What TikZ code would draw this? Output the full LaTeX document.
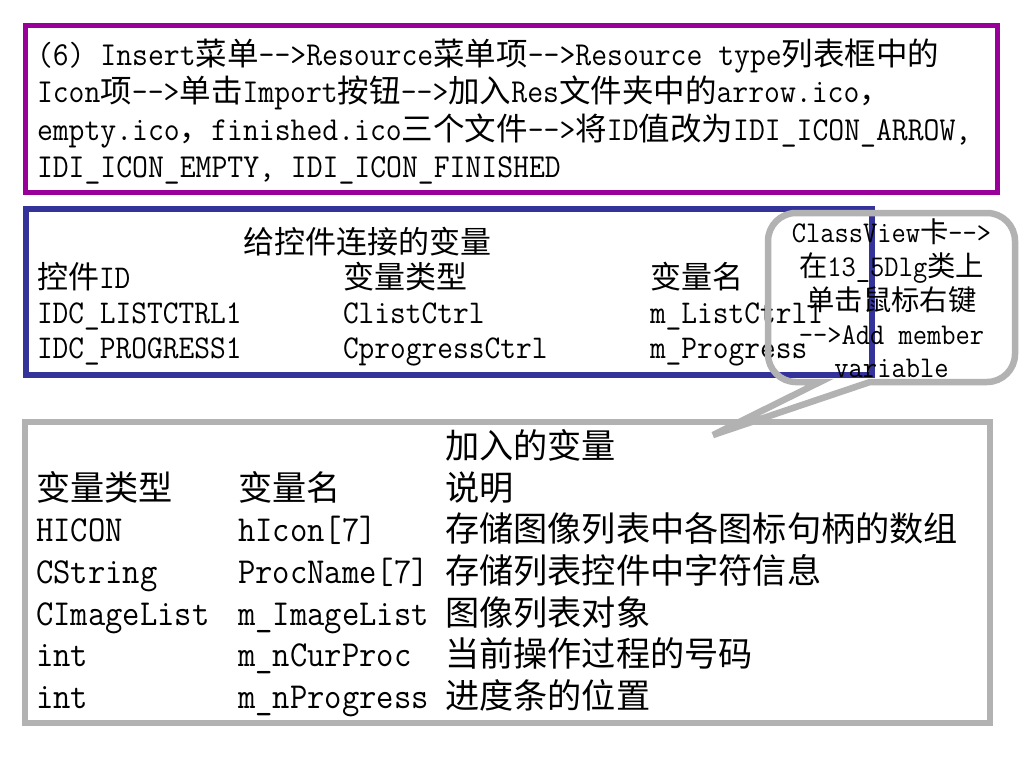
\documentclass[tikz,border=0pt]{standalone}
\usepackage{fontspec}
\newfontfamily\latf[FakeStretch=0.92,Ligatures=TeXOff]{Latin Modern Mono}
\newfontfamily\cjkf{Noto Sans CJK SC}
\definecolor{boxpurple}{HTML}{990099}
\definecolor{boxblue}{HTML}{333399}
\definecolor{boxgray}{HTML}{B2B2B2}
\def\cjksz{31.5}
\newcommand\zh[1]{{\cjkf\fontsize{\cjksz}{\cjksz}\selectfont #1}}
\newcommand\pfont{\def\cjksz{31.5}\latf\fontsize{33.5}{37.5}\selectfont}
\newcommand\bfont{\def\cjksz{31}\latf\fontsize{33.2}{35}\selectfont}
\newcommand\cfont{\def\cjksz{28.3}\latf\fontsize{30.1}{34}\selectfont}
\newcommand\gfont{\def\cjksz{34.2}\latf\fontsize{36.6}{41.6}\selectfont}
\tikzset{
  txt/.style={inner sep=0pt, outer sep=0pt, anchor=base west},
  ctxt/.style={inner sep=0pt, outer sep=0pt, anchor=base},
  pbox/.style={draw=boxpurple, line width=5.5pt},
  bbox/.style={draw=boxblue, line width=6pt},
  gbox/.style={draw=boxgray, line width=6pt},
  callout/.style={draw=boxgray, line width=6.5pt},
}
\begin{document}
\begin{tikzpicture}[x=1pt,y=-1pt]
\useasboundingbox[fill=white] (0,0) rectangle (1024,768);

% purple box
\draw[pbox] (25.5,25.5) rectangle (997.5,192.5);
\begin{scope}[every node/.style={txt,font=\pfont}]
\node (p1) at (37,65) {(6) Insert\zh{菜单}-->Resource\zh{菜单项}-->Resource type\zh{列表框中的}};
\node (p2) at (37,102.7) {Icon\zh{项}-->\zh{单击}Import\zh{按钮}-->\zh{加入}Res\zh{文件夹中的}arrow.ico\zh{，}};
\node (p3) at (37,140.2) {empty.ico\zh{，}finished.ico\zh{三个文件}-->\zh{将}ID\zh{值改为}IDI\_ICON\_ARROW,};
\node (p4) at (37,177.7) {IDI\_ICON\_EMPTY, IDI\_ICON\_FINISHED};
\end{scope}

% blue box
\draw[bbox] (25.5,208.5) rectangle (871.5,375);
\node[ctxt,font=\bfont] (bt) at (367.5,253) {\zh{给控件连接的变量}};
\begin{scope}[every node/.style={txt,font=\bfont}]
\node (bh1) at (37,288) {\zh{控件}ID};
\node (bh2) at (343,288) {\zh{变量类型}};
\node (bh3) at (650,288) {\zh{变量名}};
\node (b11) at (37,323) {IDC\_LISTCTRL1};
\node (b12) at (343,323) {ClistCtrl};
\node (b13) at (650,323) {m\_ListCtrl1};
\node (b21) at (37,358) {IDC\_PROGRESS1};
\node (b22) at (343,358) {CprogressCtrl};
\node (b23) at (650,358) {m\_Progress};
\end{scope}

% callout
\draw[callout] (713,435) -- (820,382) -- (795,382) [rounded corners=28pt] -- (768,382) -- (768,213) -- (1015,213) -- (1015,382) -- (900,382) [sharp corners] -- (870,382) -- cycle;
\begin{scope}[every node/.style={ctxt,font=\cfont}]
\node (c1) at (891.5,242) {ClassView\zh{卡}-->};
\node (c2) at (891.5,276) {\zh{在}13\_5Dlg\zh{类上}};
\node (c3) at (891.5,310.5) {\zh{单击鼠标右键}};
\node (c4) at (891.5,344) {-->Add member};
\node (c5) at (891.5,377) {variable};
\end{scope}

% gray box
\draw[gbox] (24.5,421.5) rectangle (990,723);
\begin{scope}[every node/.style={txt,font=\gfont}]
\node (gt) at (445,458.7) {\zh{加入的变量}};
\node (gh1) at (36,500.3) {\zh{变量类型}};
\node (gh2) at (238,500.3) {\zh{变量名}};
\node (gh3) at (445,500.3) {\zh{说明}};
\node (g11) at (36,541.9) {HICON};
\node (g12) at (238,541.9) {hIcon[7]};
\node (g13) at (445,541.9) {\zh{存储图像列表中各图标句柄的数组}};
\node (g21) at (36,583.5) {CString};
\node (g22) at (238,583.5) {ProcName[7]};
\node (g23) at (445,583.5) {\zh{存储列表控件中字符信息}};
\node (g31) at (36,625.1) {CImageList};
\node (g32) at (238,625.1) {m\_ImageList};
\node (g33) at (445,625.1) {\zh{图像列表对象}};
\node (g41) at (36,666.7) {int};
\node (g42) at (238,666.7) {m\_nCurProc};
\node (g43) at (445,666.7) {\zh{当前操作过程的号码}};
\node (g51) at (36,708.3) {int};
\node (g52) at (238,708.3) {m\_nProgress};
\node (g53) at (445,708.3) {\zh{进度条的位置}};
\end{scope}
\end{tikzpicture}
\end{document}
